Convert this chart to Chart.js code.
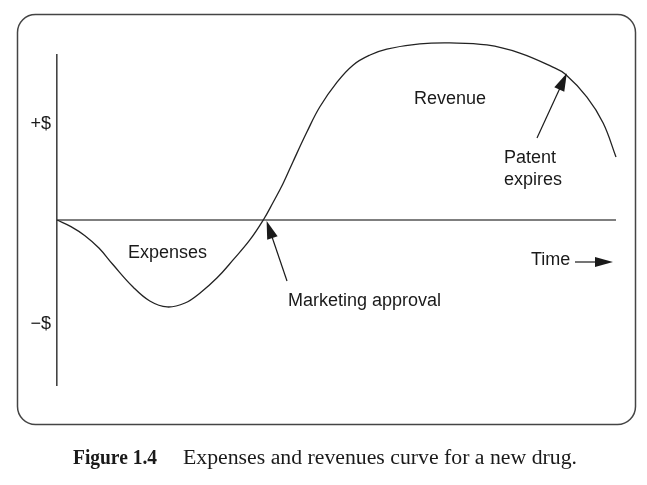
<!DOCTYPE html>
<html>
<head>
<meta charset="utf-8">
<script src="https://cdn.jsdelivr.net/npm/chart.js@4/dist/chart.umd.min.js"></script>
<style>
html,body{margin:0;padding:0;background:#fff;}
#wrap{width:647px;height:485px;position:relative;}
</style>
</head>
<body>
<div id="wrap"><canvas id="c" width="647" height="485"></canvas></div>
<script>
// Time (0..100) and net cash position (-100..100, arbitrary units)
const timeValues = [0, 2.5, 5.0, 7.5, 10.0, 13.6, 16.6, 19.7, 22.9, 25.6, 28.6, 31.5, 34.5, 36.9, 38.6, 40.4, 42.2, 44.7, 47.0, 50.1, 53.0, 56.0, 59.0, 64.9, 70.3, 76.9, 82.8, 88.7, 90.9, 94.8, 97.7, 100];
const cashValues = [0, -4.0, -9.5, -17.0, -27.0, -40.6, -49.1, -52.7, -50.3, -44.2, -35.2, -24.2, -12.1, 0, 10.3, 21.8, 35.2, 53.3, 68.5, 83.6, 94.0, 100.0, 103.6, 106.7, 107.3, 106.1, 101.2, 92.7, 88.5, 74.5, 58.8, 38.2];
const baselineTime = [0, 100];
const baselineValue = [0, 0];
const axisLabels = ['+$', '\u2212$'];
const axisLabelValues = [55, -66];
const regionLabels = ['Expenses', 'Revenue'];
const captionBold = 'Figure 1.4';
const captionText = 'Expenses and revenues curve for a new drug.';

const curve = timeValues.map((t, i) => ({x: t, y: cashValues[i]}));
const baseline = baselineTime.map((t, i) => ({x: t, y: baselineValue[i]}));

function arrowHead(ctx, x1, y1, x2, y2, len, half) {
  const a = Math.atan2(y2 - y1, x2 - x1);
  ctx.beginPath();
  ctx.moveTo(x2, y2);
  ctx.lineTo(x2 - len * Math.cos(a) + half * Math.sin(a), y2 - len * Math.sin(a) - half * Math.cos(a));
  ctx.lineTo(x2 - len * Math.cos(a) - half * Math.sin(a), y2 - len * Math.sin(a) + half * Math.cos(a));
  ctx.closePath();
  ctx.fill();
}
function arrow(ctx, x1, y1, x2, y2) {
  const a = Math.atan2(y2 - y1, x2 - x1);
  ctx.beginPath();
  ctx.moveTo(x1, y1);
  ctx.lineTo(x2 - 10 * Math.cos(a), y2 - 10 * Math.sin(a));
  ctx.stroke();
  arrowHead(ctx, x1, y1, x2, y2, 18, 5.5);
}

const decor = {
  id: 'decor',
  beforeDraw(chart) {
    const ctx = chart.ctx;
    ctx.save();
    ctx.fillStyle = '#fff';
    ctx.fillRect(0, 0, chart.width, chart.height);
    ctx.strokeStyle = '#444';
    ctx.lineWidth = 1.5;
    ctx.beginPath();
    ctx.roundRect(17.5, 14.5, 618, 410, 18);
    ctx.stroke();
    ctx.restore();
  },
  afterDraw(chart) {
    const ctx = chart.ctx;
    const xs = chart.scales.x, ys = chart.scales.y;
    const X = v => xs.getPixelForValue(v), Y = v => ys.getPixelForValue(v);
    ctx.save();
    ctx.fillStyle = '#1a1a1a';
    ctx.strokeStyle = '#1a1a1a';
    ctx.lineWidth = 1.2;
    ctx.font = '18px "Liberation Sans", Arial, sans-serif';
    ctx.textBaseline = 'alphabetic';
    // axis labels
    ctx.textAlign = 'right';
    ctx.fillText(axisLabels[0], 51, Y(axisLabelValues[0]));
    ctx.fillText(axisLabels[1], 51, Y(axisLabelValues[1]));
    // region labels
    ctx.textAlign = 'left';
    ctx.fillText(regionLabels[0], 128, 258);
    ctx.fillText(regionLabels[1], 414, 104);
    ctx.fillText('Marketing approval', 288, 306);
    ctx.fillText('Patent', 504, 163);
    ctx.fillText('expires', 504, 185);
    ctx.fillText('Time', 531, 265);
    // arrows
    arrow(ctx, 287, 281, X(37.5), Y(-0.6));
    arrow(ctx, 537, 138, X(91.2), Y(89.0));
    ctx.beginPath();
    ctx.moveTo(575, 262);
    ctx.lineTo(598, 262);
    ctx.stroke();
    arrowHead(ctx, 575, 262, 613, 262, 18, 5);
    // caption
    ctx.font = 'bold 20px "Liberation Serif", "Times New Roman", serif';
    const bw = ctx.measureText(captionBold).width;
    ctx.save();
    ctx.translate(73, 464);
    ctx.scale(84 / bw, 1);
    ctx.fillText(captionBold, 0, 0);
    ctx.restore();
    ctx.font = '20px "Liberation Serif", "Times New Roman", serif';
    const tw = ctx.measureText(captionText).width;
    ctx.save();
    ctx.translate(183, 464);
    ctx.scale(394 / tw, 1);
    ctx.fillText(captionText, 0, 0);
    ctx.restore();
    ctx.restore();
  }
};

new Chart(document.getElementById('c'), {
  type: 'line',
  data: {
    datasets: [
      {data: curve, borderColor: '#222', borderWidth: 1.3, pointRadius: 0, tension: 0.4, fill: false, clip: false},
      {data: baseline, borderColor: '#555', borderWidth: 1.6, pointRadius: 0, tension: 0, fill: false}
    ]
  },
  options: {
    responsive: false,
    animation: false,
    events: [],
    layout: {padding: {left: 57, right: 31, top: 55, bottom: 100}},
    plugins: {legend: {display: false}, tooltip: {enabled: false}, title: {display: false}},
    scales: {
      x: {type: 'linear', min: 0, max: 100, display: false},
      y: {type: 'linear', min: -100, max: 100, display: true,
          ticks: {display: false}, grid: {display: false, drawTicks: false},
          border: {display: true, color: '#444', width: 1.6}}
    }
  },
  plugins: [decor]
});
</script>
</body>
</html>
